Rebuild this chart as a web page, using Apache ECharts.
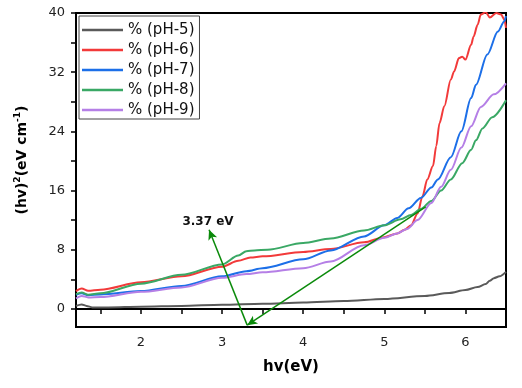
<!DOCTYPE html>
<html>
<head>
<meta charset="utf-8">
<script src="https://cdn.jsdelivr.net/npm/echarts@6/dist/echarts.min.js"></script>
<style>html,body{margin:0;padding:0;background:#fff}#c{width:522px;height:388px}</style>
</head>
<body>
<div id="c"></div>
<script>
var seriesNames = ['% (pH-5)', '% (pH-6)', '% (pH-7)', '% (pH-8)', '% (pH-9)'];
var xTickLabels = [2, 3, 4, 5, 6];
var yTickLabels = [0, 8, 16, 24, 32, 40];

var ph5X = [1.2,1.27,1.33,1.4,1.6,2.0,2.5,3.0,3.5,4.0,4.5,5.0,5.5,5.8,6.0,6.15,6.25,6.3,6.35,6.42,6.5];
var ph5Y = [0.4,0.6,0.4,0.2,0.2,0.3,0.4,0.55,0.7,0.85,1.05,1.35,1.75,2.15,2.55,2.95,3.35,3.8,4.15,4.4,5.0];

var ph6X = [1.2,1.27,1.35,1.5,2.0,2.5,3.0,3.2,3.35,3.5,4.0,4.34,4.75,5.0,5.16,5.25,5.33,5.41,5.47,5.53,5.6,5.64,5.68,5.74,5.82,5.86,5.92,5.96,6.0,6.07,6.1,6.15,6.19,6.25,6.3,6.38,6.44,6.48,6.5];
var ph6Y = [2.4,2.75,2.45,2.6,3.6,4.4,5.7,6.5,6.95,7.1,7.7,8.1,9.0,9.7,10.2,10.7,11.3,12.9,15.2,17.5,19.3,22.0,25.1,27.4,31.0,32.1,33.9,34.1,33.7,35.7,36.8,38.4,39.8,40.1,39.4,40.0,39.8,39.1,38.0];

var ph7X = [1.2,1.27,1.35,1.5,2.0,2.5,3.0,3.3,3.5,4.0,4.34,4.75,5.0,5.16,5.3,5.45,5.58,5.66,5.82,5.95,6.07,6.13,6.27,6.4,6.48,6.5];
var ph7Y = [1.9,2.1,1.85,1.95,2.4,3.1,4.4,5.1,5.5,6.7,7.9,9.8,11.3,12.3,13.6,15.0,16.4,17.5,20.5,24.0,28.5,30.3,34.4,37.5,38.9,39.6];

var ph8X = [1.2,1.27,1.35,1.5,2.0,2.5,3.0,3.2,3.3,3.4,3.56,4.0,4.34,4.75,5.0,5.2,5.33,5.45,5.58,5.7,5.82,5.96,6.07,6.13,6.21,6.33,6.5];
var ph8Y = [2.0,2.2,1.9,2.1,3.4,4.6,6.0,7.2,7.8,7.9,8.0,8.9,9.5,10.6,11.3,12.1,12.7,13.5,14.6,16.0,17.5,19.7,21.5,22.8,24.4,25.9,28.2];

var ph9X = [1.2,1.27,1.35,1.5,2.0,2.5,3.0,3.3,3.5,4.0,4.34,4.75,5.0,5.16,5.28,5.41,5.58,5.7,5.82,5.95,6.07,6.19,6.35,6.5];
var ph9Y = [1.4,1.75,1.55,1.6,2.3,2.9,4.2,4.7,4.95,5.5,6.4,8.6,9.6,10.2,10.8,12.0,14.3,16.5,18.8,21.8,24.7,27.3,29.0,30.5];

// annotation (tangent line and pointer), data coordinates
var arrowBase = [3.31, -2.2];
var arrowTop = [2.84, 10.7];
var tangentEnd = [5.51, 13.8];
var annotText = '3.37 eV';

var colors = ['#5a5a5a', '#f23a3a', '#1c6fe8', '#3aa865', '#b57fe6'];

function zip(xs, ys) { return xs.map(function (x, i) { return [x, ys[i]]; }); }
var allX = [ph5X, ph6X, ph7X, ph8X, ph9X];
var allY = [ph5Y, ph6Y, ph7Y, ph8Y, ph9Y];

var FONT = 'DejaVu Sans';

var series = seriesNames.map(function (n, i) {
  var s = {
    name: n,
    type: 'line',
    data: zip(allX[i], allY[i]),
    showSymbol: false,
    symbol: 'none',
    smooth: 0.3,
    smoothMonotone: 'x',
    lineStyle: { color: colors[i], width: 2 },
    itemStyle: { color: colors[i] },
    z: 3
  };
  if (i === 0) {
    s.markLine = {
      silent: true,
      symbol: ['none', 'arrow'],
      symbolSize: [7, 10],
      label: { show: false },
      lineStyle: { color: '#0a8a0a', width: 1.5, type: 'solid' },
      data: [
        [{ coord: arrowBase }, { coord: arrowTop }],
        [{ coord: tangentEnd }, { coord: arrowBase }]
      ]
    };
  }
  return s;
});

var chart = echarts.init(document.getElementById('c'));
chart.setOption({
  animation: false,
  backgroundColor: '#fff',
  color: colors,
  grid: { left: 76, right: 16, top: 13, bottom: 61, show: true, borderColor: '#000', borderWidth: 2, backgroundColor: 'transparent' },
  legend: {
    orient: 'vertical',
    left: 79, top: 16,
    padding: [6, 5, 1, 3],
    icon: 'rect',
    itemWidth: 41, itemHeight: 2.5, itemGap: 4,
    borderColor: '#444', borderWidth: 1,
    textStyle: { fontFamily: FONT, fontSize: 15, color: '#111', lineHeight: 16 },
    data: seriesNames
  },
  xAxis: {
    type: 'value', min: 1.2, max: 6.5,
    name: 'hv(eV)', nameLocation: 'middle', nameGap: 33,
    nameTextStyle: { fontFamily: FONT, fontSize: 15, fontWeight: 'bold', color: '#000' },
    axisLine: { show: true, lineStyle: { color: '#000', width: 2 } },
    axisTick: { show: true, inside: false, length: 5, lineStyle: { color: '#000', width: 1.5 }, customValues: [1.5,2,2.5,3,3.5,4,4.5,5,5.5,6,6.5] },
    axisLabel: { fontFamily: FONT, fontSize: 13, color: '#222', margin: 9, customValues: xTickLabels },
    splitLine: { show: false }
  },
  yAxis: {
    type: 'value', min: -2.45, max: 40,
    axisLine: { show: true, lineStyle: { color: '#000', width: 2 } },
    axisTick: { show: true, inside: false, length: 5, lineStyle: { color: '#000', width: 1.5 }, customValues: [0,4,8,12,16,20,24,28,32,36,40] },
    axisLabel: { fontFamily: FONT, fontSize: 13, color: '#222', margin: 11, customValues: yTickLabels },
    splitLine: { show: false }
  },
  graphic: [
    {
      type: 'text', x: 22, y: 160, rotation: Math.PI / 2,
      style: {
        text: '{a|(hv)}{s|2}{a|(eV cm}{s|-1}{a|)}',
        align: 'center', verticalAlign: 'middle',
        rich: {
          a: { fontFamily: FONT, fontSize: 14, fontWeight: 'bold', fill: '#000', lineHeight: 17 },
          s: { fontFamily: FONT, fontSize: 9, fontWeight: 'bold', fill: '#000', verticalAlign: 'top', lineHeight: 9 }
        }
      }
    },
    {
      type: 'text', x: 208, y: 222,
      style: { text: annotText, fontFamily: FONT, fontSize: 12, fontWeight: 'bold', fill: '#111', align: 'center', verticalAlign: 'middle' }
    }
  ],
  series: series
});
</script>
</body>
</html>
